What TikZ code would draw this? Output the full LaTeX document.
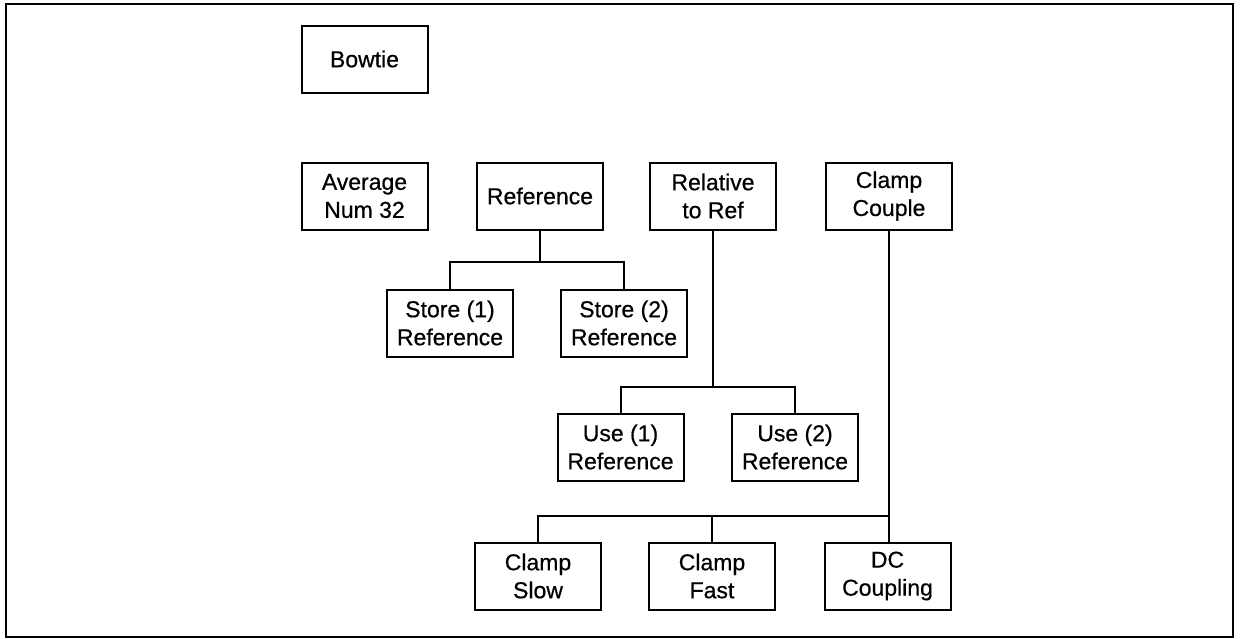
\documentclass[tikz,border=0pt]{standalone}
\usepackage{fontspec}
\setmainfont{Liberation Sans}
\newfontfamily\boxfont{Liberation Sans}[FakeBold=0.6]
\tikzset{
  menubox/.style={draw,line width=1pt,minimum width=63pt,minimum height=33.5pt,
    inner sep=0pt,align=center,font=\boxfont\fontsize{11.5}{14}\selectfont},
  link/.style={line width=1pt}
}
\begin{document}
\begin{tikzpicture}[x=0.5pt,y=-0.5pt]
\useasboundingbox (0,0) rectangle (1240,638);
\draw[line width=1pt] (6,4) rectangle (1233,637);
\node[menubox] (bowtie) at (364.5,59) {Bowtie};
\node[menubox] (average) at (364.5,196) {Average\\Num 32};
\node[menubox] (ref) at (540,196) {Reference};
\node[menubox] (relref) at (713,196) {Relative\\to Ref};
\node[menubox] (clampcpl) at (889,196) {Clamp\\Couple};
\node[menubox] (store1) at (450,323) {Store (1)\\Reference};
\node[menubox] (store2) at (624,323) {Store (2)\\Reference};
\node[menubox] (use1) at (620.5,447) {Use (1)\\Reference};
\node[menubox] (use2) at (795,447) {Use (2)\\Reference};
\node[menubox] (slow) at (538,576) {Clamp\\Slow};
\node[menubox] (fast) at (712,576) {Clamp\\Fast};
\node[menubox] (dc) at (887.5,576) {DC\\Coupling};
\draw[link] (ref.south) -- ++(0,31.5) coordinate (refj) -| (store1.north);
\draw[link] (refj) -| (store2.north);
\draw[link] (relref.south) -- ++(0,156.5) coordinate (relj) -| (use1.north);
\draw[link] (relj) -| (use2.north);
\draw[link] (clampcpl.south) -- (clampcpl.south |- dc.north);
\coordinate (clampj) at (clampcpl.south |- 0,516);
\draw[link] (clampj) -| (slow.north);
\draw[link] (fast.north) -- (fast.north |- clampj);
\end{tikzpicture}
\end{document}
